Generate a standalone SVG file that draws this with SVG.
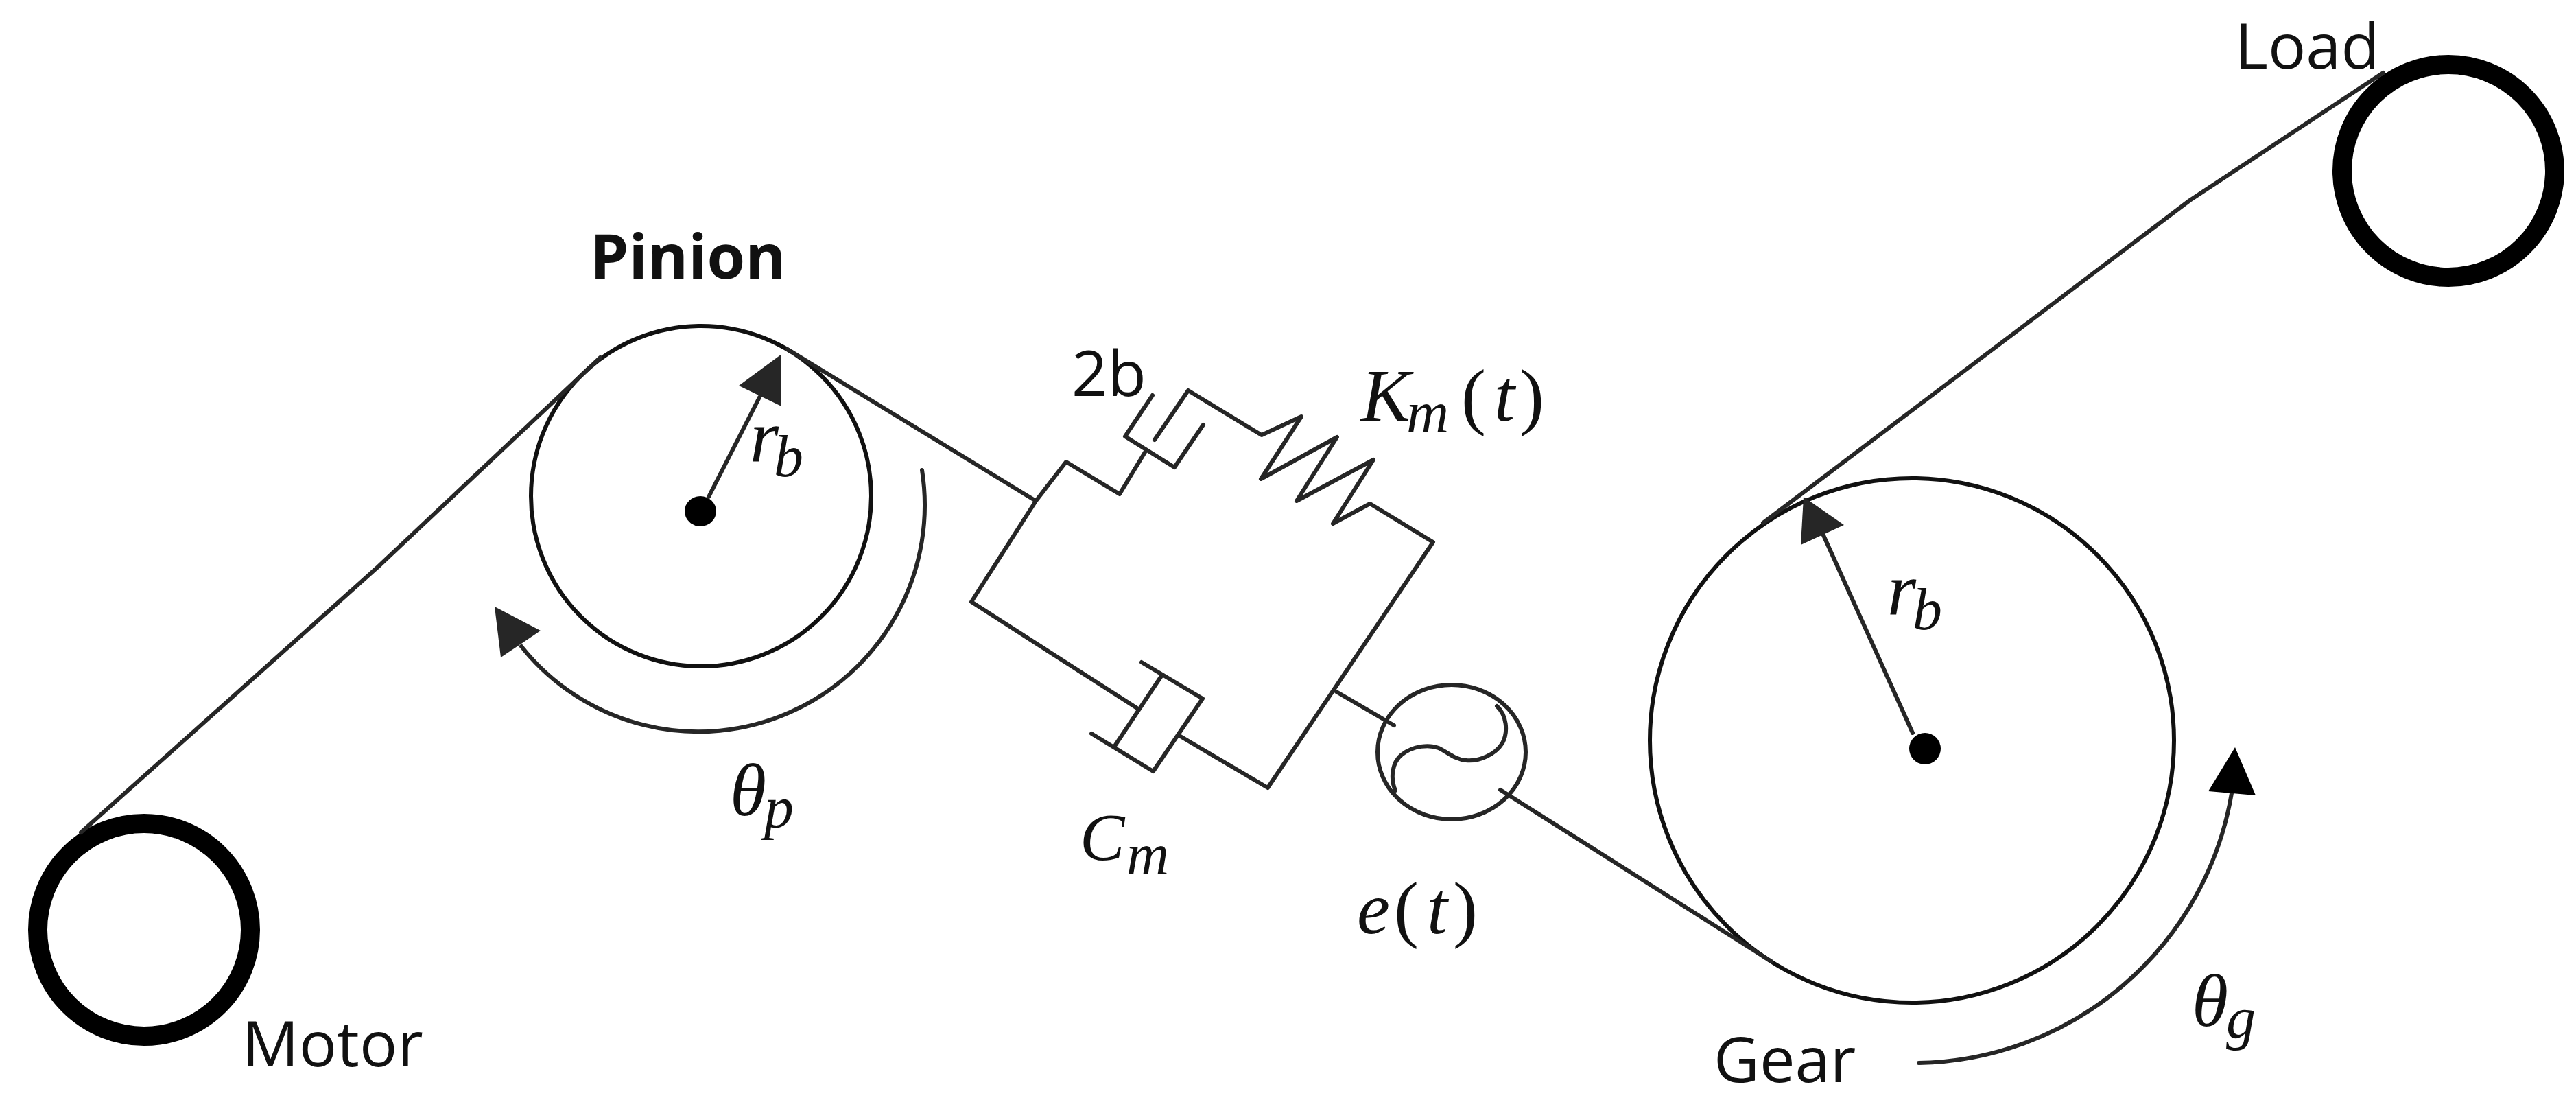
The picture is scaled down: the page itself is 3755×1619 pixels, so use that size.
<svg xmlns="http://www.w3.org/2000/svg" width="3755" height="1619" viewBox="0 0 3755 1619">
<style>
.l{fill:none;stroke:#262626;stroke-width:6;stroke-linejoin:round;stroke-linecap:round}
.t{fill:none;stroke:#111;stroke-width:6}
.thick{fill:none;stroke:#000;stroke-width:28}
.h{fill:#262626;stroke:none}
.d{fill:#000;stroke:none}
.s{font-family:"Open Sans","Liberation Sans",sans-serif;font-size:92px;fill:#111}
.b{font-weight:700;font-size:90px}
.m{font-family:"Liberation Serif",serif;font-style:italic;fill:#111;font-size:108px}
.u{font-style:normal}
.sub{font-size:86px}
.c{font-size:98px}
</style>
<g id="motor"><circle class="thick" cx="210" cy="1355" r="155"/><text class="s" x="353" y="1554">Motor</text></g>
<g id="load"><circle class="thick" cx="3569" cy="249" r="155"/><text class="s" x="3258" y="100">Load</text></g>
<g id="pinion"><circle class="t" cx="1022" cy="723" r="248"/><ellipse class="d" cx="1021" cy="745" rx="23" ry="22"/>
<text class="s b" x="860" y="406">Pinion</text>
<path class="l" d="M1033 724L1107 579"/><polygon class="h" points="1138,517 1077,562 1139,592"/>
<text class="m" x="1093" y="672">r<tspan class="sub" x="1128" y="694">b</tspan></text>
<path class="l" d="M1344 685A330 330 0 0 1 760 942"/>
<polygon class="h" points="721,884 788,919 730,958"/>
<text class="m" x="1064" y="1188">θ<tspan class="sub" x="1114" y="1205">p</tspan></text></g>
<g id="gear"><circle class="t" cx="2787" cy="1079" r="382"/><circle class="d" cx="2806" cy="1091" r="23"/>
<path class="l" d="M2788 1068L2658 780"/><polygon class="h" points="2629,724 2688,765 2625,794"/>
<text class="m" x="2751" y="895">r<tspan class="sub" x="2788" y="917">b</tspan></text>
<path class="l" d="M2797 1549A471 471 0 0 0 3253 1156"/>
<polygon class="d" points="3258,1089 3219,1153 3288,1159"/>
<text class="s" x="2498" y="1577">Gear</text>
<text class="m" x="3195" y="1495">θ<tspan class="sub" x="3245" y="1512">g</tspan></text></g>
<g id="coupling">
<path class="l" d="M1510 730L1554 673L1632 720L1669 659"/>
<path class="l" d="M1510 730L1416 877L1659 1033"/>
<path class="l" d="M1680 576L1640 636L1712 681L1754 619"/>
<path class="l" d="M1683 641L1732 569L1839 634L1897 607L1838 698L1949 637L1890 730L2002 670L1943 763L1997 734L2089 790L1848 1148L1719 1072"/>
<path class="l" d="M1664 965L1753 1018L1681 1124L1591 1069"/>
<path class="l" d="M1625 1087L1693 985"/>
<text class="s" x="1562" y="577">2b</text>
<text class="m" x="1984" y="613">K<tspan class="sub" x="2050" y="630">m</tspan><tspan class="u" x="2130" y="613">(</tspan><tspan x="2178" y="613">t</tspan><tspan class="u" x="2215" y="613">)</tspan></text>
<text class="m c" x="1574" y="1253">C<tspan class="sub" x="1642" y="1274">m</tspan></text>
</g>
<g id="source"><ellipse class="l" cx="2116" cy="1096" rx="108" ry="98"/>
<path class="l" d="M2182 1029C2196 1042 2199 1066 2190 1083C2180 1099 2157 1110 2137 1108C2121 1107 2110 1096 2097 1090C2084 1085 2060 1086 2043 1100C2030 1110 2026 1133 2034 1152"/>
<text class="m" x="1978" y="1360">e<tspan class="u" x="2032" y="1360">(</tspan><tspan x="2080" y="1360">t</tspan><tspan class="u" x="2118" y="1360">)</tspan></text></g>
<g id="connectors">
<path class="l" d="M118 1213L551 826L875 521"/>
<path class="l" d="M1148 509L1510 730"/>
<path class="l" d="M1948 1008L2032 1057"/>
<path class="l" d="M2187 1151L2582 1401"/>
<path class="l" d="M2570 762L3192 292L3474 106"/>
</g>
</svg>
